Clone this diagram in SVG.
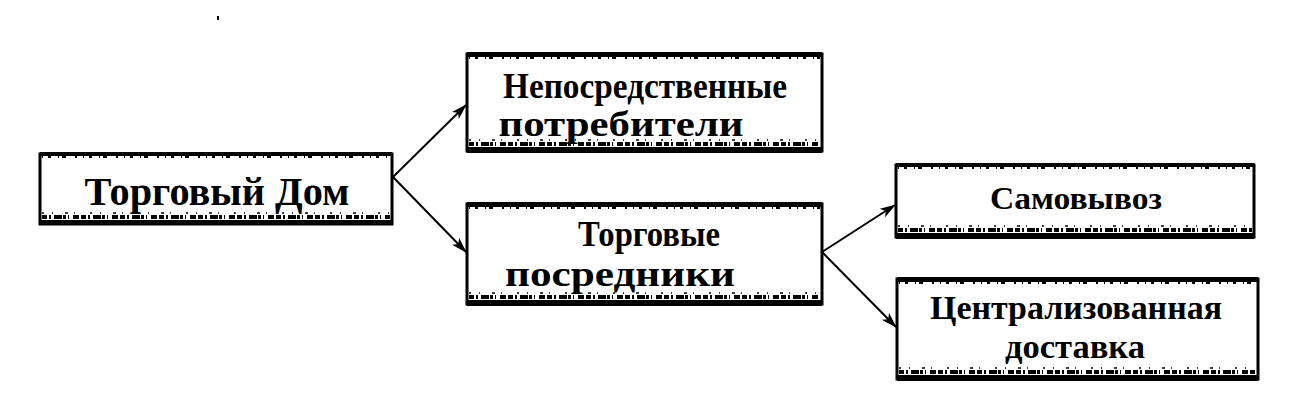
<svg xmlns="http://www.w3.org/2000/svg" width="1301" height="417" viewBox="0 0 1301 417">
  <style>
    .box { fill: #ffffff; stroke: #000000; stroke-width: 3; }
    .band { fill: #000000; }
    .noise { fill: none; stroke: #000000; stroke-width: 4; stroke-dasharray: 5 2 2 3 8 1 3 2 1 4 6 2; }
    .noise2 { fill: none; stroke: #000000; stroke-width: 2; stroke-dasharray: 1 5 3 7 1 3 4 9 2 6; }
    .noise3 { fill: none; stroke: #000000; stroke-width: 1.5; stroke-dasharray: 2 8 1 12 3 6 1 15; }
    .t { font-family: "Liberation Serif", "Times New Roman", serif; font-weight: bold; fill: #000000; text-anchor: middle; }
    .conn { stroke: #000000; stroke-width: 2; fill: none; marker-end: url(#arrow); }
  </style>
  <defs>
    <marker id="arrow" markerWidth="16" markerHeight="10" refX="15" refY="5" orient="auto" markerUnits="userSpaceOnUse">
      <path d="M0,0 L16,5 L0,10 L4,5 Z" fill="#000000"/>
    </marker>
  </defs>
  <rect width="1301" height="417" fill="#ffffff"/>
  <rect x="217" y="16" width="2" height="4" fill="#000000"/>

  <g id="connectors">
    <line class="conn" x1="393" y1="177" x2="466" y2="105"/>
    <line class="conn" x1="393" y1="177" x2="466" y2="252"/>
    <line class="conn" x1="822" y1="252" x2="895" y2="205"/>
    <line class="conn" x1="822" y1="252" x2="896" y2="327"/>
  </g>

  <g id="node-torgovy-dom">
    <rect class="box" x="40" y="154" width="352" height="70"/>
    <rect class="band" x="40" y="152" width="352" height="4"/>
    <rect class="band" x="40" y="220" width="352" height="5"/>
    <line class="noise" x1="42" y1="217" x2="390" y2="217"/>
    <line class="noise3" x1="42" y1="213" x2="390" y2="213"/>
    <line class="noise2" x1="42" y1="157" x2="390" y2="157"/>
    <text class="t" x="217" y="205" font-size="41" textLength="265" lengthAdjust="spacingAndGlyphs">Торговый Дом</text>
  </g>

  <g id="node-neposredstvennye">
    <rect class="box" x="467" y="54" width="355" height="97"/>
    <rect class="band" x="467" y="52" width="355" height="5"/>
    <rect class="band" x="467" y="147" width="355" height="6"/>
    <line class="noise" x1="469" y1="144" x2="820" y2="144"/>
    <line class="noise3" x1="469" y1="140" x2="820" y2="140"/>
    <line class="noise2" x1="469" y1="58" x2="820" y2="58"/>
    <text class="t" x="645" y="98" font-size="35" textLength="284" lengthAdjust="spacingAndGlyphs">Непосредственные</text>
    <text class="t" x="621" y="136" font-size="35" textLength="245" lengthAdjust="spacingAndGlyphs">потребители</text>
  </g>

  <g id="node-posredniki">
    <rect class="box" x="467" y="204" width="355" height="100"/>
    <rect class="band" x="467" y="202" width="355" height="5"/>
    <rect class="band" x="467" y="300" width="355" height="6"/>
    <line class="noise" x1="469" y1="297" x2="820" y2="297"/>
    <line class="noise3" x1="469" y1="293" x2="820" y2="293"/>
    <line class="noise2" x1="469" y1="208" x2="820" y2="208"/>
    <text class="t" x="649" y="246" font-size="35" textLength="142" lengthAdjust="spacingAndGlyphs">Торговые</text>
    <text class="t" x="620" y="286" font-size="35" textLength="230" lengthAdjust="spacingAndGlyphs">посредники</text>
  </g>

  <g id="node-samovyvoz">
    <rect class="box" x="896" y="165" width="358" height="72"/>
    <rect class="band" x="896" y="163" width="358" height="4"/>
    <rect class="band" x="896" y="233" width="358" height="6"/>
    <line class="noise" x1="898" y1="230" x2="1252" y2="230"/>
    <line class="noise3" x1="898" y1="226" x2="1252" y2="226"/>
    <line class="noise2" x1="898" y1="168" x2="1252" y2="168"/>
    <text class="t" x="1076" y="209" font-size="31" textLength="172" lengthAdjust="spacingAndGlyphs">Самовывоз</text>
  </g>

  <g id="node-centralizovannaya">
    <rect class="box" x="897" y="279" width="361" height="100"/>
    <rect class="band" x="897" y="277" width="361" height="5"/>
    <rect class="band" x="897" y="375" width="361" height="6"/>
    <line class="noise" x1="899" y1="372" x2="1256" y2="372"/>
    <line class="noise3" x1="899" y1="368" x2="1256" y2="368"/>
    <line class="noise2" x1="899" y1="283" x2="1256" y2="283"/>
    <text class="t" x="1076" y="319" font-size="34" textLength="292" lengthAdjust="spacingAndGlyphs">Централизованная</text>
    <text class="t" x="1075" y="358" font-size="34" textLength="140" lengthAdjust="spacingAndGlyphs">доставка</text>
  </g>
</svg>
